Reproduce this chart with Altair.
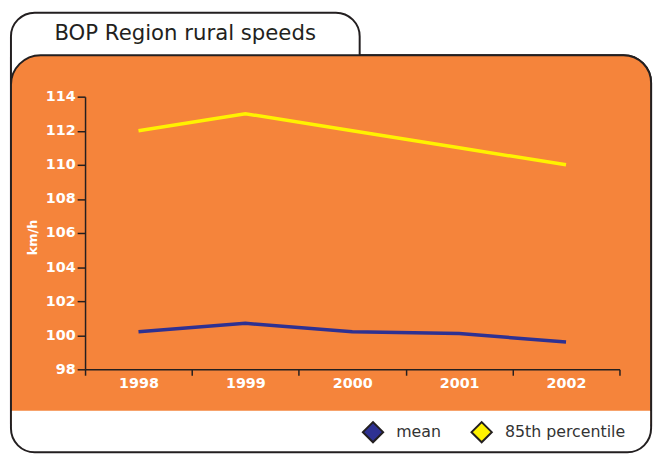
import altair as alt
import pandas as pd

years = ["1998", "1999", "2000", "2001", "2002"]
mean_kmh = [100.2, 100.7, 100.2, 100.1, 99.6]
p85_kmh = [112, 113, 112, 111, 110]
series = ["mean", "85th percentile"]
y_ticks = [98, 100, 102, 104, 106, 108, 110, 112, 114]
title_text = "BOP Region rural speeds"

rows = []
for y, m in zip(years, mean_kmh):
    rows.append({"year": y, "series": "mean", "value": m})
for y, p in zip(years, p85_kmh):
    rows.append({"year": y, "series": "85th percentile", "value": p})
df = pd.DataFrame(rows)

ORANGE = "#F5843B"
DARK = "#231F20"
BLUE = "#2E3192"
YELLOW = "#FFF200"
FONT = "DejaVu Sans"

one = alt.Data(values=[{}])

frame = alt.Chart(one).mark_rect(
    fill="white", stroke=DARK, strokeWidth=2,
    cornerRadiusTopRight=28, cornerRadiusBottomLeft=24, cornerRadiusBottomRight=24,
).encode(x=alt.value(-75), x2=alt.value(573), y=alt.value(-42), y2=alt.value(360))

tab = alt.Chart(one).mark_rect(
    fill="white", stroke=DARK, strokeWidth=2,
    cornerRadiusTopLeft=24, cornerRadiusTopRight=24,
).encode(x=alt.value(-75), x2=alt.value(278), y=alt.value(-85), y2=alt.value(-10))

orange = alt.Chart(one).mark_rect(
    fill=ORANGE, stroke=DARK, strokeWidth=2,
    cornerRadiusTopLeft=30, cornerRadiusTopRight=28,
).encode(x=alt.value(-75), x2=alt.value(573), y=alt.value(-42), y2=alt.value(333))

cover = alt.Chart(one).mark_rect(fill="white", strokeWidth=0).encode(
    x=alt.value(-74), x2=alt.value(572), y=alt.value(318), y2=alt.value(335)
)

title = alt.Chart(one).mark_text(
    text=title_text, align="left", baseline="middle", fontSize=21.5,
    font=FONT, color=DARK,
).encode(x=alt.value(-31), y=alt.value(-63))

color_scale = alt.Scale(domain=series, range=[BLUE, YELLOW])
x_scale = alt.Scale(type="band", paddingInner=0, paddingOuter=0, domain=years)

x_enc = alt.X(
    "year:O", bandPosition=0.5, scale=x_scale,
    axis=alt.Axis(
        title=None, labelAngle=0, tickBand="extent", tickSize=6, tickWidth=1.5,
        tickColor=DARK, domainColor=DARK, domainWidth=1.5, labelColor="white",
        labelFontSize=14.5, labelFontWeight="bold", labelPadding=1, zindex=1,
        labelFont=FONT,
    ),
)
y_enc = alt.Y(
    "value:Q",
    scale=alt.Scale(domain=[98, 114], nice=False, zero=False),
    axis=alt.Axis(
        values=y_ticks, title="km/h", grid=False, tickSize=8, tickWidth=1.5,
        tickColor=DARK, domainColor=DARK, domainWidth=1.5, labelColor="white",
        labelFontSize=14.5, labelFontWeight="bold", labelPadding=2, zindex=1,
        labelFont=FONT, labelOverlap=False,
        titleColor="white", titleFontSize=13, titleFontWeight="bold", titleFont=FONT,
        titleX=-53, titleY=142, titleAngle=-90, titleAlign="center", titleBaseline="middle",
    ),
)

lines = alt.Chart(df).mark_line(strokeWidth=3.5).encode(
    x=x_enc, y=y_enc,
    color=alt.Color("series:N", scale=color_scale, legend=None),
    detail="series:N",
)

legend_pts = alt.Chart(df).transform_filter("false").mark_point(
    filled=True, shape="diamond"
).encode(
    fill=alt.Fill(
        "series:N", scale=alt.Scale(domain=series, range=[BLUE, YELLOW]),
        legend=alt.Legend(
            orient="none", legendX=280, legendY=328, direction="horizontal", title=None,
            symbolType="diamond", symbolSize=420, symbolStrokeColor=DARK,
            symbolStrokeWidth=2, symbolOpacity=1, labelFontSize=16, labelFont=FONT,
            labelColor="#333333", labelOffset=12, columnPadding=26, padding=0, zindex=1,
        ),
    ),
)

chart = alt.layer(frame, tab, orange, cover, title, lines, legend_pts).properties(
    width=541, height=276,
    autosize=alt.AutoSizeParams(type="none"),
    padding={"left": 78, "top": 87, "right": 39, "bottom": 84},
    background="white",
).resolve_scale(fill="independent", color="independent").configure_view(strokeWidth=0).configure(font=FONT)

chart.save("out.html", embed_options={"renderer": "svg", "actions": False})
